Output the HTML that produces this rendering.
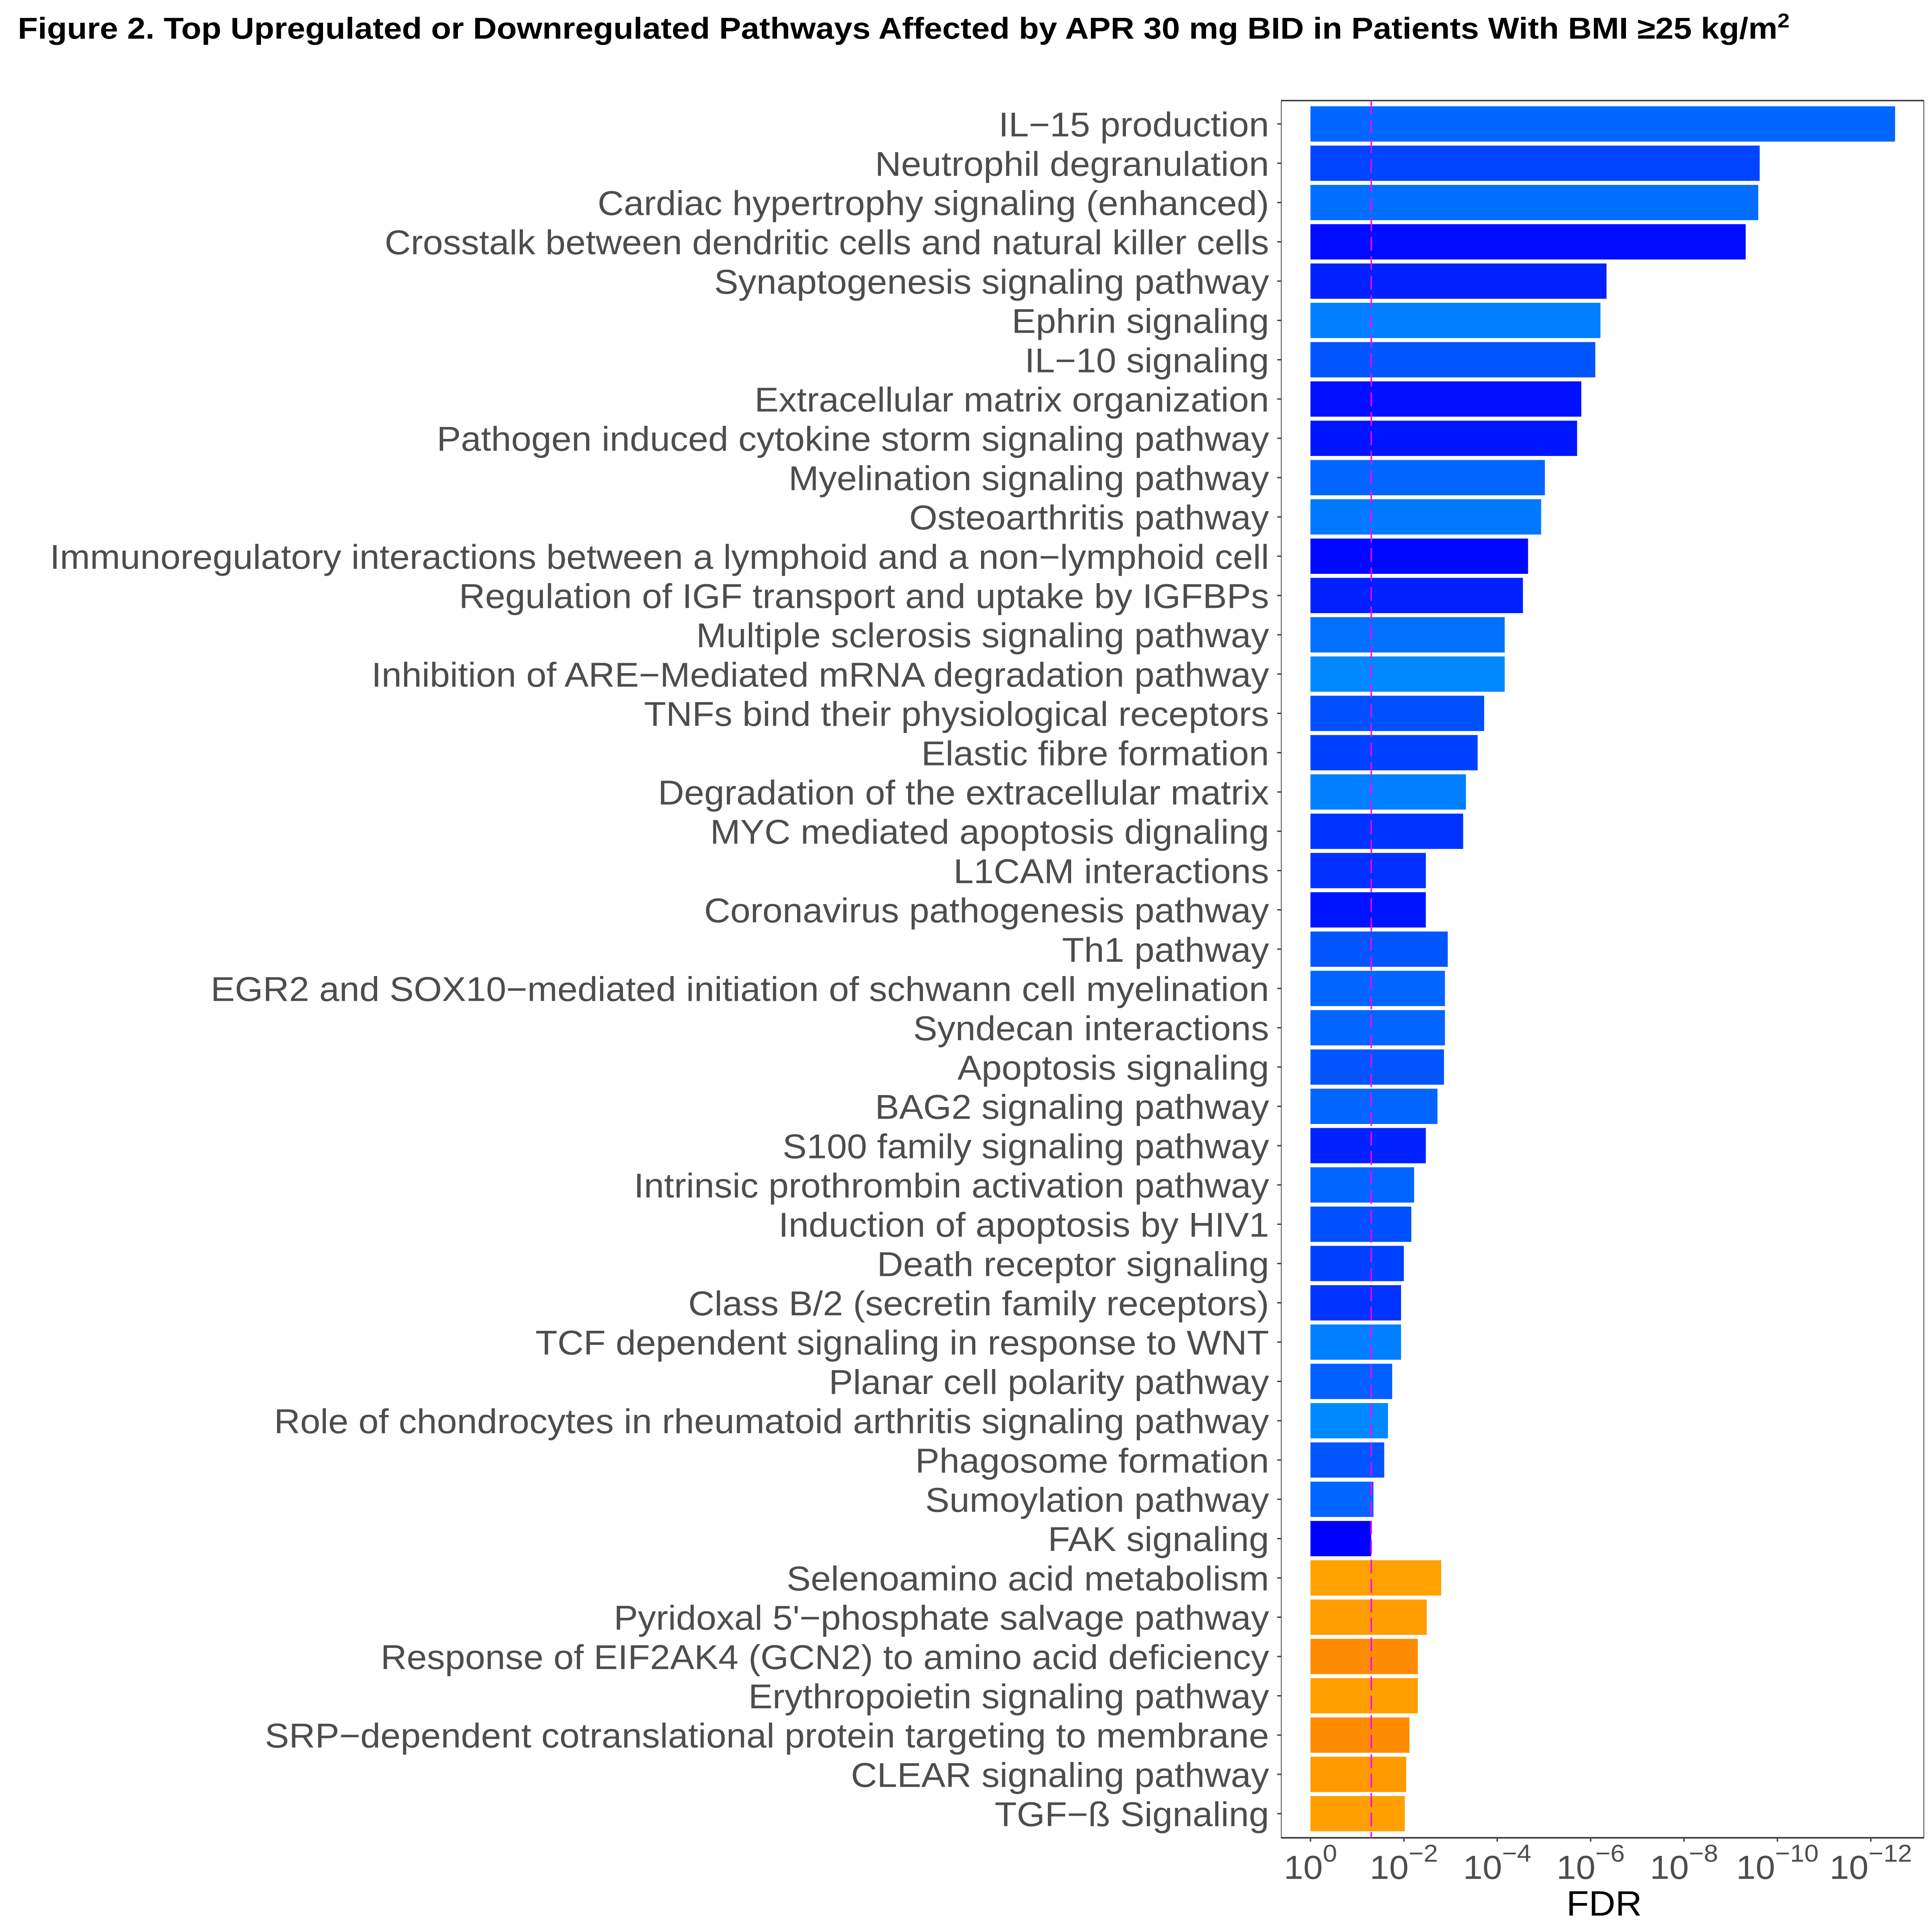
<!DOCTYPE html>
<html><head><meta charset="utf-8">
<style>
html,body{margin:0;padding:0;background:#fff;width:100%;height:100%;overflow:hidden;}
svg{display:block;position:fixed;left:0;top:0;width:100vw;height:100vh;}
</style></head>
<body>
<svg id="chart" xmlns="http://www.w3.org/2000/svg" viewBox="0 0 6624 6952" preserveAspectRatio="none" font-family="'Liberation Sans', Arial, sans-serif">
<rect x="0" y="0" width="6624" height="6952" fill="#fff"/>
<text x="61" y="139" font-size="108" font-weight="bold" fill="#000" textLength="6075" lengthAdjust="spacingAndGlyphs">Figure 2. Top Upregulated or Downregulated Pathways Affected by APR 30 mg BID in Patients With BMI ≥25 kg/m<tspan font-size="72" dy="-40">2</tspan></text>
<g id="plot"></g>
</svg>
<script>
const categories = ["IL\u221215 production","Neutrophil degranulation","Cardiac hypertrophy signaling (enhanced)","Crosstalk between dendritic cells and natural killer cells","Synaptogenesis signaling pathway","Ephrin signaling","IL\u221210 signaling","Extracellular matrix organization","Pathogen induced cytokine storm signaling pathway","Myelination signaling pathway","Osteoarthritis pathway","Immunoregulatory interactions between a lymphoid and a non\u2212lymphoid cell","Regulation of IGF transport and uptake by IGFBPs","Multiple sclerosis signaling pathway","Inhibition of ARE\u2212Mediated mRNA degradation pathway","TNFs bind their physiological receptors","Elastic fibre formation","Degradation of the extracellular matrix","MYC mediated apoptosis dignaling","L1CAM interactions","Coronavirus pathogenesis pathway","Th1 pathway","EGR2 and SOX10\u2212mediated initiation of schwann cell myelination","Syndecan interactions","Apoptosis signaling","BAG2 signaling pathway","S100 family signaling pathway","Intrinsic prothrombin activation pathway","Induction of apoptosis by HIV1","Death receptor signaling","Class B/2 (secretin family receptors)","TCF dependent signaling in response to WNT","Planar cell polarity pathway","Role of chondrocytes in rheumatoid arthritis signaling pathway","Phagosome formation","Sumoylation pathway","FAK signaling","Selenoamino acid metabolism","Pyridoxal 5'\u2212phosphate salvage pathway","Response of EIF2AK4 (GCN2) to amino acid deficiency","Erythropoietin signaling pathway","SRP\u2212dependent cotranslational protein targeting to membrane","CLEAR signaling pathway","TGF\u2212\u00DF Signaling"];
// -log10(FDR)
const negLogFdr = [12.52,9.62,9.59,9.32,6.34,6.21,6.10,5.80,5.71,5.02,4.94,4.66,4.55,4.16,4.16,3.72,3.58,3.33,3.27,2.47,2.47,2.94,2.88,2.88,2.86,2.72,2.47,2.22,2.16,2.00,1.94,1.94,1.75,1.66,1.58,1.35,1.30,2.80,2.49,2.30,2.30,2.12,2.05,2.02];
const barColors = ["#0066FF","#0044FF","#006EFF","#000CFF","#0022FF","#0080FF","#0055FF","#0010FF","#0015FF","#0066FF","#0078FF","#0008FF","#0020FF","#0070FF","#0088FF","#0050FF","#0040FF","#0080FF","#0033FF","#0030FF","#0015FF","#0055FF","#0066FF","#0066FF","#0055FF","#0066FF","#0022FF","#0066FF","#0050FF","#0040FF","#0033FF","#0080FF","#0060FF","#0088FF","#0055FF","#0066FF","#0000FF","#FFA200","#FF9E00","#FF8C00","#FFA000","#FF8C00","#FF9A00","#FFA000"];
const tickExponents = [0,2,4,6,8,10,12];
const thresholdFdr = 0.05;

const NS = "http://www.w3.org/2000/svg";
const plot = document.getElementById('plot');
const X0 = 4493, DEC = 160.1;
const PL = 4393, PR = 6596, PT = 362, PB = 6613;
const ROW0 = 446, PITCH = 141.4, BH = 127;
function xScale(v){ return X0 + v*DEC; }
function yScale(i){ return ROW0 + i*PITCH; }
function mk(tag, attrs){ const e=document.createElementNS(NS,tag); for(const k in attrs) e.setAttribute(k,attrs[k]); return e; }

const frame = mk('rect',{x:PL,y:PT,width:PR-PL,height:PB-PT,fill:'none',stroke:'#555','stroke-width':3});


plot.appendChild(frame);
const topLine = mk('line',{x1:PL,y1:PT,x2:PR,y2:PT,stroke:'#333','stroke-width':5});


plot.appendChild(topLine);
const xAxis = mk('line',{x1:PL,y1:PB,x2:PR,y2:PB,stroke:'#444','stroke-width':6});


plot.appendChild(xAxis);

categories.forEach((c,i)=>{
  const yc = yScale(i);
  const bar = mk('rect',{x:X0,y:yc-BH/2,width:Math.max(0,xScale(negLogFdr[i])-X0),height:BH,fill:barColors[i]});
  
  
  plot.appendChild(bar);
  const tk = mk('line',{x1:PL-14,y1:yc,x2:PL,y2:yc,stroke:'#444','stroke-width':5});
  
  
  plot.appendChild(tk);
  const t = mk('text',{x:4351,y:yc+45,'text-anchor':'end','font-size':124,fill:'#4d4d4d'});
  t.textContent = c;
  
  
  plot.appendChild(t);
});

const thx = xScale(-Math.log10(thresholdFdr));
const th = mk('line',{x1:thx,y1:PT,x2:thx,y2:PB,stroke:'#FF00FF','stroke-width':5,'stroke-dasharray':'50 20'});


plot.appendChild(th);

tickExponents.forEach(e=>{
  const x = xScale(e);
  const tk = mk('line',{x1:x,y1:PB,x2:x,y2:PB+14,stroke:'#444','stroke-width':5});
  
  
  plot.appendChild(tk);
  const t = mk('text',{x:x,y:6761,'text-anchor':'middle','font-size':120,fill:'#4d4d4d'});
  
  
  t.appendChild(document.createTextNode('10'));
  const sup = mk('tspan',{'font-size':88,dy:-62});
  sup.textContent = e===0 ? '0' : '\u2212'+e;
  t.appendChild(sup);
  plot.appendChild(t);
});

const xt = mk('text',{x:5500,y:6893,'text-anchor':'middle','font-size':126,fill:'#000'});
xt.textContent = 'FDR';


plot.appendChild(xt);
</script>
</body></html>
